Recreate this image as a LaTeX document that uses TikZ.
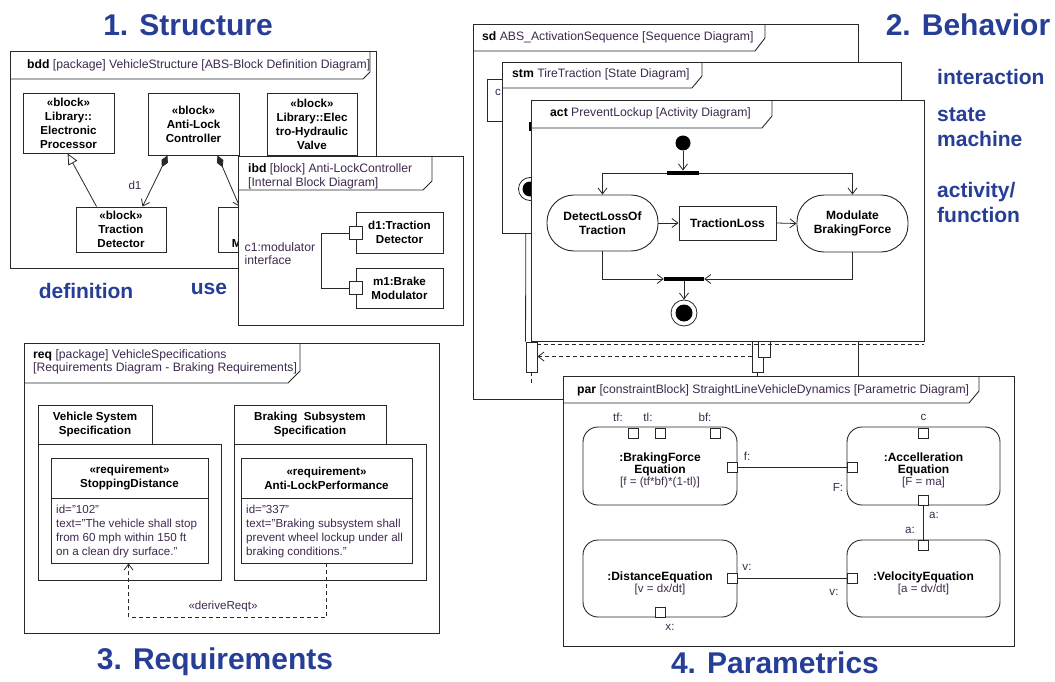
\documentclass[tikz,border=0pt]{standalone}
\usepackage{fontspec}
\setmainfont{Liberation Sans}
\usetikzlibrary{arrows.meta,calc}
\definecolor{ttl}{RGB}{38,62,150}
\definecolor{utxt}{RGB}{62,42,78}
\definecolor{lnc}{RGB}{40,40,40}
\newcommand\fsm{\fontsize{11.6}{14}\selectfont}
\newcommand\fhd{\fontsize{12.2}{13.5}\selectfont}
\newcommand\fac{\fontsize{12}{14.5}\selectfont}
\tikzset{
  bx/.style n args={4}{minimum width={(#3)-(#1)}, minimum height={(#4)-(#2)}, at={({((#1)+(#3))/2},{((#2)+(#4))/2})}},
  frm/.style={rectangle, draw=lnc, line width=0.9pt, fill=white, inner sep=0pt},
  tabline/.style={draw=lnc, line width=0.9pt},
  blk/.style={rectangle, draw=lnc, line width=0.9pt, fill=white, inner sep=0pt, align=center, font=\fsm\bfseries},
  actn/.style={rectangle, draw=lnc, line width=0.9pt, fill=white, inner sep=0pt, align=center, rounded corners=27pt, font=\fac\bfseries},
  cb/.style={rectangle, draw=lnc, line width=0.9pt, fill=white, inner sep=0pt, rounded corners=15pt},
  prt/.style={rectangle, draw=lnc, line width=0.8pt, fill=white, minimum size=10pt, inner sep=0pt},
  lbl/.style={inner sep=0pt, text=utxt, font=\fsm},
  hdr/.style={inner sep=0pt, anchor=west, text=utxt, font=\fhd, align=left},
  big/.style={inner sep=0pt, text=ttl, font=\fontsize{30}{36}\selectfont\bfseries},
  side/.style={inner sep=0pt, text=ttl, font=\fontsize{21}{25}\selectfont\bfseries, anchor=west, align=left},
  conn/.style={draw=lnc, line width=0.8pt},
  oa/.style={-{Straight Barb[length=6pt,width=9pt]}},
  dsh/.style={dash pattern=on 4pt off 3pt},
}
\begin{document}
\begin{tikzpicture}[x=1pt,y=-1pt]
\useasboundingbox (0,0) rectangle (1055,682);
\fill[white] (0,0) rectangle (1055,682);

% ---------- titles ----------
\node[big] (t1) at (188,25) {1. Structure};
\node[big] (t2) at (968,25) {2. Behavior};
\node[big] (t3) at (215,662) {3. Requirements};
\node[big] (t4) at (775,663) {4. Parametrics};

% ---------- bdd ----------
\node[frm, bx={10}{51}{376}{268}] (bdd) {};
\draw[tabline] (10,79) -- (363,79) -- (370,72) -- (370,51);
\node[hdr] (bddh) at (27,65) {\textcolor{black}{\bfseries bdd} [package] VehicleStructure [ABS-Block Definition Diagram]};
\node[blk, bx={23}{93}{114}{153}] (ep) {«block»\\Library::\\Electronic\\Processor};
\node[blk, bx={148}{93}{239}{155}] (alc) {«block»\\Anti-Lock\\Controller};
\node[blk, bx={267}{93}{357}{155}] (ehv) {«block»\\Library::Elec\\tro-Hydraulic\\Valve};
\node[blk, bx={76}{207}{166}{252}] (td) {«block»\\Traction\\Detector};
\node[blk, bx={218}{207}{302}{252}] (bm) {«block»\\Brake\\Modulator};
\draw[conn, -{Triangle[open,length=11pt,width=10pt]}] ($(td.north west)+(21,0)$) -- ($(ep.south west)+(45,0)$);
\draw[conn, {Diamond[length=13pt,width=7pt]}-{Straight Barb[length=6pt,width=9pt]}] ($(alc.south west)+(20,0)$) -- ($(td.north west)+(67,0)$);
\draw[conn, {Diamond[length=13pt,width=7pt]}-{Straight Barb[length=6pt,width=9pt]}] ($(alc.south west)+(70,0)$) -- ($(bm.north west)+(22,0)$);
\node[lbl] (d1) at (135,185) {d1};

% ---------- ibd ----------
\node[frm, bx={238}{156}{463}{325}] (ibd) {};
\draw[tabline] (238,190) -- (423,190) -- (432,181) -- (432,156);
\node[hdr] (ibdh) at (248,176.5) {\textcolor{black}{\bfseries ibd} [block] Anti-LockController\\{}[Internal Block Diagram]};
\node[blk, bx={356}{212}{443}{253}] (pd1) {d1:Traction\\Detector};
\node[blk, bx={356}{268}{443}{308}] (pm1) {m1:Brake\\Modulator};
\node[prt, minimum size=13pt] (qd1) at (356,233) {};
\node[prt, minimum size=13pt] (qm1) at (356,288) {};
\draw[conn] (qd1.west) -- ($(qd1.west)+(-28,0)$) |- (qm1.west);
\node[hdr, anchor=west, align=left] (c1) at (244.5,253.5) {c1:modulator\\interface};

\node[side, anchor=center] (def) at (86,291) {definition};
\node[side, anchor=center] (use) at (209,289) {use};

% ---------- req ----------
\node[frm, bx={24}{343}{439}{633}] (req) {};
\draw[tabline] (24,383) -- (288,383) -- (300,371) -- (300,343);
\node[hdr] (reqh) at (33,362) {\textcolor{black}{\bfseries req} [package] VehicleSpecifications\\{}[Requirements Diagram - Braking Requirements]};
\node[blk, bx={38}{405}{152}{444}] (pk1t) {Vehicle System\\Specification};
\node[blk, bx={38}{444}{221}{580}] (pk1) {};
\node[blk, bx={234}{405}{386}{444}] (pk2t) {Braking\ \ Subsystem\\Specification};
\node[blk, bx={234}{444}{426}{580}] (pk2) {};
\node[blk, bx={51}{458}{208}{498}] (r1h) {«requirement»\\StoppingDistance};
\node[blk, bx={51}{498}{208}{563}] (r1) {};
\node[lbl, anchor=west, align=left] (r1t) at (56,531) {id="102"\\text="The vehicle shall stop\\from 60 mph within 150 ft\\on a clean dry surface."};
\node[blk, bx={241}{458}{412}{498}] (r2h) {«requirement»\\Anti-LockPerformance};
\node[blk, bx={241}{498}{412}{563}] (r2) {};
\node[lbl, anchor=west, align=left] (r2t) at (246,531) {id="337"\\text="Braking subsystem shall\\prevent wheel lockup under all\\braking conditions."};
\draw[conn, dsh, oa] (r2.south) -- ($(r2.south)+(0,54)$) -| ($(r1.south west)+(78,0)$);
\node[lbl] (dr) at (223,606) {«deriveReqt»};

% ---------- sd ----------
\node[frm, bx={473}{24}{858}{399}] (sd) {};
\draw[tabline] (473,51) -- (755,51) -- (765,38) -- (765,24);
\node[hdr] (sdh) at (482,37.5) {\textcolor{black}{\bfseries sd} ABS\_ActivationSequence [Sequence Diagram]};
\node[frm, bx={487}{79}{565}{121}] (hb) {};
\node[lbl] (hbt) at (498,92) {c};
\node[frm, bx={526}{342}{537}{372}] (bar1) {};
\node[frm, bx={752}{341}{763}{372}] (bar2) {};
\node[frm, bx={758}{341}{770}{357}] (bar3) {};
\draw[conn] (hb.south) -- (bar1.north west);
\draw[conn, dsh] (bar1.south) -- ($(bar1.south)+(0,13)$);
\draw[conn] (bar2.south) -- ($(bar2.south)+(0,6)$);
\draw[conn, dsh, oa] (bar2.west) -- (bar2.west -| bar1.east);

% ---------- stm ----------
\node[frm, bx={502}{62}{901}{233}] (stm) {};
\draw[tabline] (502,88) -- (692,88) -- (702,76) -- (702,62);
\node[hdr] (stmh) at (512,74) {\textcolor{black}{\bfseries stm} TireTraction [State Diagram]};
\node[circle, draw=lnc, fill=white, line width=0.8pt, minimum size=23pt, inner sep=0pt] (sf) at (530,189) {};
\node[circle, fill=black, minimum size=15pt, inner sep=0pt] (sfi) at (530,189) {};
\node[fill=black, minimum width=3pt, minimum height=9pt, inner sep=0pt] (smk) at (530,127) {};

% ---------- act ----------
\node[frm, bx={531}{100}{924}{341}] (act) {};
\draw[tabline] (531,128) -- (762,128) -- (772,116) -- (772,100);
\node[hdr] (acth) at (550,113) {\textcolor{black}{\bfseries act} PreventLockup [Activity Diagram]};
\draw[conn, dsh] ($(act.south west)+(6,2.5)$) -- ($(act.south east)+(0,2.5)$);
\node[circle, fill=black, minimum size=15pt, inner sep=0pt] (init) at (683,143) {};
\node[fill=black, minimum width=32pt, minimum height=4.5pt, inner sep=0pt] (fork) at (683,173) {};
\draw[conn, oa] (init) -- (fork);
\node[actn, bx={547}{195}{658}{251}] (det) {DetectLossOf\\Traction};
\node[blk, font=\fac\bfseries, bx={679}{206}{776}{240}] (tl) {TractionLoss};
\node[actn, bx={797}{195}{908}{252}] (mod) {Modulate\\BrakingForce};
\draw[conn, oa] (fork.west) -| (det.north);
\draw[conn, oa] (fork.east) -| (mod.north);
\draw[conn, oa] (det.east) -- (tl.west);
\draw[conn, oa] (tl.east) -- (mod.west);
\node[fill=black, minimum width=40pt, minimum height=4.5pt, inner sep=0pt] (join) at (684,279) {};
\draw[conn, oa] (det.south) |- (join.west);
\draw[conn, oa] (mod.south) |- (join.east);
\node[circle, draw=lnc, fill=white, line width=0.8pt, minimum size=26pt, inner sep=0pt] (fin) at (684,313) {};
\node[circle, fill=black, minimum size=17pt, inner sep=0pt] (fini) at (684,313) {};
\draw[conn, oa] (join.south) -- (fin.north);

% ---------- par ----------
\node[frm, bx={563}{376}{1014}{646}] (par) {};
\draw[tabline] (563,403) -- (969,403) -- (979,391) -- (979,376);
\node[hdr] (parh) at (577,390) {\textcolor{black}{\bfseries par} [constraintBlock] StraightLineVehicleDynamics [Parametric Diagram]};
\node[cb, bx={583}{427}{737}{505}] (bf) {};
\node[cb, bx={847}{427}{1000}{505}] (acc) {};
\node[cb, bx={583}{540}{737}{617}] (dist) {};
\node[cb, bx={847}{540}{1000}{617}] (vel) {};
\node[align=center, inner sep=0pt] (bft) at (660,470) {{\fac\bfseries :BrakingForce}\\{\fac\bfseries Equation}\\{\fsm\color{utxt}[f = (tf*bf)*(1-tl)]}};
\node[align=center, inner sep=0pt] (acct) at (923.5,470) {{\fac\bfseries :Accelleration}\\{\fac\bfseries Equation}\\{\fsm\color{utxt}[F = ma]}};
\node[align=center, inner sep=0pt] (distt) at (660,583.5) {{\fac\bfseries :DistanceEquation}\\{\fsm\color{utxt}[v = dx/dt]}};
\node[align=center, inner sep=0pt] (velt) at (923.5,583.5) {{\fac\bfseries :VelocityEquation}\\{\fsm\color{utxt}[a = dv/dt]}};
\node[prt] (ptf) at (633,433) {};
\node[prt] (ptl) at (660,433) {};
\node[prt] (pbf) at (715,433) {};
\node[prt] (pf) at (732,467) {};
\node[prt] (pF) at (852,467) {};
\node[prt] (pc) at (923.5,433) {};
\node[prt] (pa1) at (923.5,500) {};
\node[prt] (pa2) at (923.5,545) {};
\node[prt] (pv1) at (732,578) {};
\node[prt] (pv2) at (852,578) {};
\node[prt] (px) at (660,612) {};
\draw[conn] (pf.east) -- (pF.west);
\draw[conn] (pa1.south) -- (pa2.north);
\draw[conn] (pv1.east) -- (pv2.west);
\node[lbl] (ltf) at (618,417) {tf:};
\node[lbl] (ltl) at (648,417) {tl:};
\node[lbl] (lbf) at (705,417) {bf:};
\node[lbl] (lc) at (923.5,417) {c};
\node[lbl] (lf) at (747,456) {f:};
\node[lbl] (lF) at (838,488) {F:};
\node[lbl] (la1) at (934,515) {a:};
\node[lbl] (la2) at (910,530) {a:};
\node[lbl] (lv1) at (747,567) {v:};
\node[lbl] (lv2) at (834,592) {v:};
\node[lbl] (lx) at (670,627) {x:};

% ---------- side labels ----------
\node[side] (s1) at (937,77) {interaction};
\node[side] (s2) at (937,127.5) {state\\machine};
\node[side] (s3) at (937,202.5) {activity/\\function};
\end{tikzpicture}
\end{document}
